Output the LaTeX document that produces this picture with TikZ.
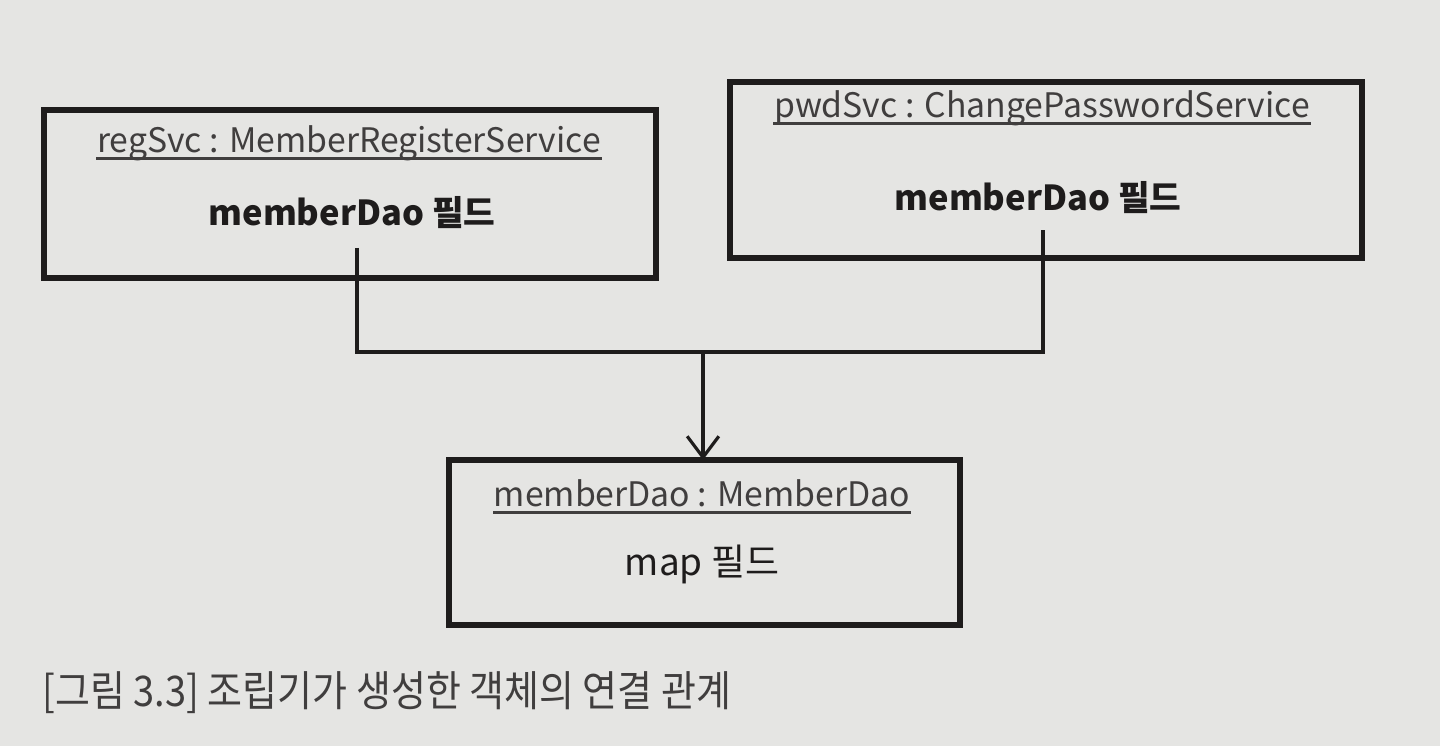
\documentclass[tikz,border=0pt]{standalone}
\usepackage{fontspec}
\setmainfont{Noto Sans CJK KR}
\usetikzlibrary{arrows.meta}
\definecolor{paper}{RGB}{229,229,227}
\definecolor{ink}{RGB}{30,28,28}
\begin{document}
\begin{tikzpicture}[x=0.01cm,y=-0.01cm,
  obj/.style={draw=ink,line width=1.5pt,fill=paper,inner sep=0pt},
  ttl/.style={font=\fontsize{9.6}{11}\selectfont,text=ink!85,inner sep=0pt},
  uline/.style={draw=ink!85,line width=0.6pt},
  fld/.style={font=\fontsize{9.8}{12}\selectfont\bfseries,text=ink},
  fldn/.style={font=\fontsize{10.5}{12}\selectfont,text=ink},
  wire/.style={draw=ink,line width=0.9pt},
  captext/.style={font=\fontsize{12}{14}\selectfont,text=ink!85,anchor=west,inner sep=0pt}]
\fill[paper] (0,0) rectangle (1440,746);
\useasboundingbox (0,0) rectangle (1440,746);
% boxes
\path[obj] (44,110) rectangle (656,278);
\path[obj] (730,82) rectangle (1362,258);
\path[obj] (449,460) rectangle (960,625);
\node[ttl] (t1) at (349,143) {regSvc : MemberRegisterService};
\node[fld] (f1) at (352,213) {memberDao 필드};
\node[ttl] (t2) at (1042,108) {pwdSvc : ChangePasswordService};
\node[fld] (f2) at (1038,198) {memberDao 필드};
\node[ttl] (t3) at (702,493) {memberDao : MemberDao};
\node[fldn] (f3) at (702,564) {map 필드};
\foreach \t in {t1,t2,t3}
  \draw[uline] ([yshift=-1.8pt]\t.base west) -- ([yshift=-1.8pt]\t.base east);
% connectors
\coordinate (a1) at (357,248);
\coordinate (a2) at (1043,230);
\coordinate (j) at (703,352);
\coordinate (tip) at (703,460);
\draw[wire] (a1) |- (j) -| (a2);
\draw[wire,-{Straight Barb[length=6pt,width=9pt]}] (j) -- (tip);
\node[captext,xscale=0.9] (c) at (42,693) {[그림 3.3] 조립기가 생성한 객체의 연결 관계};
\end{tikzpicture}
\end{document}
